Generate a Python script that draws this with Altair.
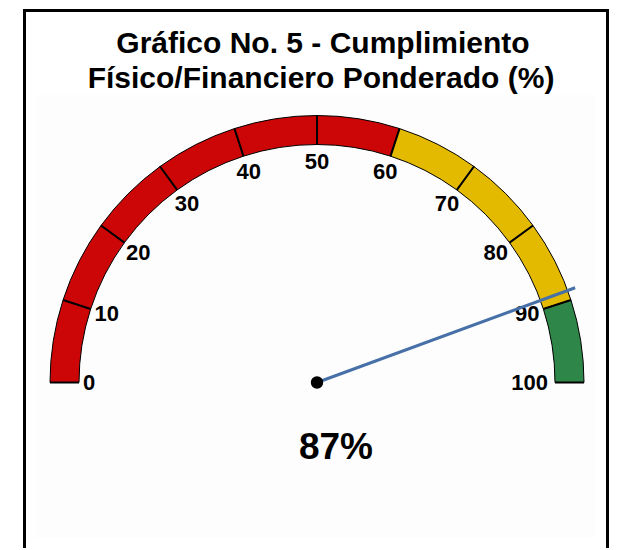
import math
import altair as alt
import pandas as pd

# ---- data ----
title_lines = ["Gráfico No. 5 -  Cumplimiento", "Físico/Financiero Ponderado (%)"]
band_starts = [0, 60, 90]
band_ends = [60, 90, 100]
band_colors = ["#CC0606", "#E3BA00", "#2E8648"]
segment_starts = [0, 10, 20, 30, 40, 50, 60, 70, 80, 90]
segment_ends = [10, 20, 30, 40, 50, 60, 70, 80, 90, 100]
tick_values = [0, 10, 20, 30, 40, 50, 60, 70, 80, 90, 100]
tick_labels = ["0", "10", "20", "30", "40", "50", "60", "70", "80", "90", "100"]
needle_value = 88.8
display_value = 87

FONT = "Liberation Sans"
CX, CY = 309, 374.5
R_OUT, R_IN = 267, 238
NEEDLE_COLOR = "#4770A8"


def band_color(v):
    for s, e, c in zip(band_starts, band_ends, band_colors):
        if s <= v < e:
            return c
    return band_colors[-1]


seg_df = pd.DataFrame({
    "start": segment_starts,
    "end": segment_ends,
    "color": [band_color(s) for s in segment_starts],
})
tick_df = pd.DataFrame({"v": tick_values, "label": tick_labels})
needle_df = pd.DataFrame({"v": [needle_value]})
pct_df = pd.DataFrame({"label": [f"{display_value}%"]})
title_df = pd.DataFrame({"line": title_lines, "i": [0, 1]})
one = pd.DataFrame({"a": [0]})

theta_scale = alt.Scale(domain=[0, 100], range=[-math.pi / 2, math.pi / 2])
cx = alt.value(CX)
cy = alt.value(CY)

bg = alt.Chart(one).mark_rect(color="#FDFDFD").encode(
    x=alt.value(28), x2=alt.value(587), y=alt.value(87), y2=alt.value(530)
)

border_left = alt.Chart(one).mark_rule(color="black", strokeWidth=3).encode(
    x=alt.value(16.5), y=alt.value(2.5), y2=alt.value(540)
)
border_top = alt.Chart(one).mark_rule(color="black", strokeWidth=3).encode(
    x=alt.value(15), x2=alt.value(601), y=alt.value(2.5)
)
border_right = alt.Chart(one).mark_rule(color="black", strokeWidth=3).encode(
    x=alt.value(599.5), y=alt.value(2.5), y2=alt.value(540)
)

segments = alt.Chart(seg_df).mark_arc(
    radius=R_OUT, radius2=R_IN, stroke="black", strokeWidth=1
).encode(
    theta=alt.Theta("start:Q", scale=theta_scale, stack=False),
    theta2="end:Q",
    color=alt.Color("color:N", scale=None),
    x=cx, y=cy,
)

ticks = alt.Chart(tick_df).mark_arc(
    radius=R_OUT, radius2=R_IN, stroke="black", strokeWidth=2, fill="black"
).encode(
    theta=alt.Theta("v:Q", scale=theta_scale, stack=False),
    theta2="v:Q",
    x=cx, y=cy,
)

text_common = dict(font=FONT, fontSize=22, fontWeight="bold", color="black", baseline="middle")

labels_mid = alt.Chart(tick_df).transform_filter(
    "datum.v > 0 && datum.v < 100"
).mark_text(radius=221, align="center", **text_common).encode(
    theta=alt.Theta("v:Q", scale=theta_scale, stack=False),
    text="label:N", x=cx, y=cy,
)
labels_left = alt.Chart(tick_df).transform_filter("datum.v == 0").mark_text(
    radius=234, align="left", **text_common
).encode(
    theta=alt.Theta("v:Q", scale=theta_scale, stack=False),
    text="label:N", x=cx, y=cy,
)
labels_right = alt.Chart(tick_df).transform_filter("datum.v == 100").mark_text(
    radius=231, align="right", **text_common
).encode(
    theta=alt.Theta("v:Q", scale=theta_scale, stack=False),
    text="label:N", x=cx, y=cy,
)

needle = alt.Chart(needle_df).mark_arc(
    radius=275, radius2=0, stroke=NEEDLE_COLOR, strokeWidth=3, fill=NEEDLE_COLOR
).encode(
    theta=alt.Theta("v:Q", scale=theta_scale, stack=False),
    theta2="v:Q",
    x=cx, y=cy,
)

dot = alt.Chart(one).mark_circle(size=154, color="black", opacity=1).encode(x=cx, y=cy)

pct = alt.Chart(pct_df).mark_text(
    font=FONT, fontSize=37, fontWeight="bold", color="black", align="center", baseline="middle"
).encode(text="label:N", x=alt.value(328), y=alt.value(440))

title_common = dict(font=FONT, fontSize=30, fontWeight="bold", color="black",
                    align="center", baseline="alphabetic")
title1 = alt.Chart(title_df).transform_filter("datum.i == 0").mark_text(
    **title_common
).encode(text="line:N", x=alt.value(315), y=alt.value(45))
title2 = alt.Chart(title_df).transform_filter("datum.i == 1").mark_text(
    **title_common
).encode(text="line:N", x=alt.value(313), y=alt.value(80))

chart = alt.layer(
    bg, border_left, border_top, border_right,
    segments, ticks, labels_mid, labels_left, labels_right,
    needle, dot, pct, title1, title2,
).properties(
    width=601, height=540, padding=0, autosize="none", background="white"
).configure_view(stroke=None)

chart.save("out.html", embed_options={"renderer": "svg", "actions": False})
